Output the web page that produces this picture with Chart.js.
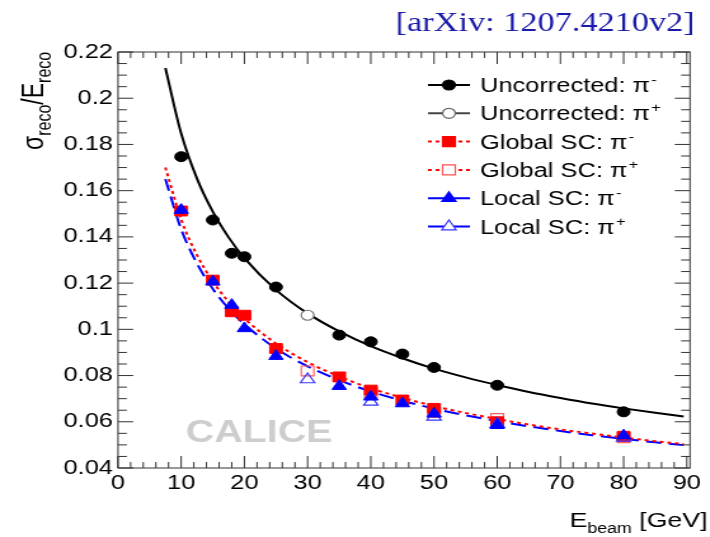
<!DOCTYPE html>
<html>
<head>
<meta charset="utf-8">
<script src="https://cdn.jsdelivr.net/npm/chart.js"></script>
<style>
html,body{margin:0;padding:0;background:#fff;overflow:hidden}
#wrap{width:559px;height:537px;transform:scaleX(1.27);transform-origin:0 0}
</style>
</head>
<body>
<div id="wrap"><canvas id="mycanvas" width="559" height="537"></canvas></div>
<script>
// beam energies (GeV) and resolution values
var energies = [10, 15, 18, 20, 25, 35, 40, 45, 50, 60, 80];
var uncorrMinus = [0.1747, 0.1473, 0.1329, 0.1314, 0.1183, 0.0975, 0.0946, 0.0893, 0.0835, 0.0758, 0.0643];
var globalMinus = [0.1512, 0.1213, 0.1076, 0.1061, 0.0917, 0.0794, 0.0737, 0.0694, 0.0658, 0.0600, 0.0537];
var localMinus  = [0.1516, 0.1206, 0.1105, 0.1004, 0.0884, 0.0754, 0.0708, 0.0679, 0.0635, 0.0585, 0.0540];

var uncorrPlusE = [30];
var uncorrPlus  = [0.1061];
var energiesPlus = [30, 40, 50, 60, 80];
var globalPlus = [0.0820, 0.0725, 0.0640, 0.0614, 0.0531];
var localPlus  = [0.0783, 0.0686, 0.0621, 0.0590, 0.0530];

// fit curves
var fitE       = [7.5, 10, 12.5, 15, 17.5, 20, 25, 30, 35, 40, 45, 50, 55, 60, 65, 70, 75, 80, 85, 89.5];
var fitUncorr  = [0.2131, 0.1847, 0.1652, 0.1509, 0.1398, 0.1308, 0.1171, 0.1069, 0.0991, 0.0927, 0.0875, 0.0830, 0.0792, 0.0759, 0.0729, 0.0703, 0.0679, 0.0658, 0.0639, 0.0623];
var fitGlobal  = [0.1700, 0.1475, 0.1321, 0.1207, 0.1119, 0.1047, 0.0939, 0.0858, 0.0796, 0.0745, 0.0704, 0.0668, 0.0638, 0.0612, 0.0588, 0.0567, 0.0549, 0.0532, 0.0516, 0.0504];
var fitLocal   = [0.1650, 0.1433, 0.1285, 0.1175, 0.1090, 0.1022, 0.0917, 0.0840, 0.0780, 0.0731, 0.0691, 0.0657, 0.0628, 0.0603, 0.0580, 0.0560, 0.0542, 0.0526, 0.0511, 0.0499];

var xTicks = [0, 10, 20, 30, 40, 50, 60, 70, 80, 90];
var yTicks = [0.04, 0.06, 0.08, 0.1, 0.12, 0.14, 0.16, 0.18, 0.2, 0.22];
var yTickLabels = ['0.04', '0.06', '0.08', '0.1', '0.12', '0.14', '0.16', '0.18', '0.2', '0.22'];

var legendItems = [
	{label: 'Uncorrected: \u03c0', sup: '-', style: 'circle', fill: '#000', stroke: '#000', line: '#000', dash: []},
	{label: 'Uncorrected: \u03c0', sup: '+', style: 'circle', fill: '#fff', stroke: '#666', line: '#444', dash: []},
	{label: 'Global SC: \u03c0', sup: '-', style: 'rect', fill: '#ff0000', stroke: '#ff0000', line: '#ff0000', dash: [3, 3]},
	{label: 'Global SC: \u03c0', sup: '+', style: 'rect', fill: '#fff', stroke: '#ff5050', line: '#ff0000', dash: [3, 3]},
	{label: 'Local SC: \u03c0', sup: '-', style: 'triangle', fill: '#0000ff', stroke: '#0000ff', line: '#0000ff', dash: [14, 6]},
	{label: 'Local SC: \u03c0', sup: '+', style: 'triangle', fill: '#fff', stroke: '#3535ff', line: '#0000ff', dash: [14, 6]}
];

function pts(xs, ys){
	return xs.map(function(x, i){ return {x: x, y: ys[i]}; });
}

var FONT = '"Liberation Sans", Arial, sans-serif';

function drawMarker(ctx, style, x, y, fill, stroke){
	ctx.save();
	ctx.setLineDash([]);
	ctx.fillStyle = fill;
	ctx.strokeStyle = stroke;
	ctx.lineWidth = 1.2;
	ctx.beginPath();
	if(style == 'circle'){
		ctx.arc(x, y, 5, 0, Math.PI*2);
	} else if(style == 'rect'){
		ctx.rect(x-5, y-5, 10, 10);
	} else {
		ctx.moveTo(x, y-6.5);
		ctx.lineTo(x+5.6, y+3.3);
		ctx.lineTo(x-5.6, y+3.3);
		ctx.closePath();
	}
	ctx.fill();
	ctx.stroke();
	ctx.restore();
}

var decorPlugin = {
	id: 'decor',
	beforeDatasetsDraw: function(chart){
		var ctx = chart.ctx;
		ctx.save();
		ctx.font = 'bold 31px ' + FONT;
		ctx.fillStyle = '#cdcdcd';
		ctx.textAlign = 'center';
		ctx.textBaseline = 'middle';
		ctx.fillText('CALICE', 204, 433);
		ctx.restore();
	},
	afterDraw: function(chart){
		var ctx = chart.ctx;
		var a = chart.chartArea;
		var xs = chart.scales.x, ys = chart.scales.y;
		ctx.save();
		// frame
		ctx.strokeStyle = '#333';
		ctx.lineWidth = 1;
		ctx.strokeRect(a.left, a.top, a.right-a.left, a.bottom-a.top);
		// x ticks (inside, bottom and top)
		ctx.beginPath();
		for(var v = 0; v <= 90; v += 2){
			var px = xs.getPixelForValue(v);
			var len = (v % 10 == 0) ? 12 : 6;
			ctx.moveTo(px, a.bottom); ctx.lineTo(px, a.bottom-len);
			ctx.moveTo(px, a.top); ctx.lineTo(px, a.top+len);
		}
		// y ticks (inside, left and right)
		for(var k = 0; k <= 36; k++){
			var val = 0.04 + k*0.005;
			var py = ys.getPixelForValue(val);
			var l2 = (k % 4 == 0) ? 12 : 7;
			ctx.moveTo(a.left, py); ctx.lineTo(a.left+l2, py);
			ctx.moveTo(a.right, py); ctx.lineTo(a.right-l2, py);
		}
		ctx.stroke();

		// legend
		legendItems.forEach(function(it, i){
			var y = 85 + i*28.3;
			ctx.save();
			ctx.strokeStyle = it.line;
			ctx.lineWidth = 2;
			ctx.setLineDash(it.dash);
			ctx.beginPath();
			ctx.moveTo(337, y); ctx.lineTo(370, y);
			ctx.stroke();
			ctx.restore();
			drawMarker(ctx, it.style, 353.5, y, it.fill, it.stroke);
			ctx.fillStyle = '#000';
			ctx.font = '20px ' + FONT;
			ctx.textAlign = 'left';
			ctx.textBaseline = 'alphabetic';
			ctx.fillText(it.label, 378, y+7);
			var w = ctx.measureText(it.label).width;
			ctx.font = '13px ' + FONT;
			ctx.fillText(it.sup, 378+w+1, y-1);
		});

		// y axis title
		ctx.save();
		ctx.translate(34, 150);
		ctx.rotate(-Math.PI/2);
		ctx.fillStyle = '#000';
		ctx.textBaseline = 'alphabetic';
		var x0 = 0;
		var parts = [['\u03c3', 23, 0], ['reco', 16, 6], ['/', 23, 0], ['E', 23, 0], ['reco', 16, 6]];
		parts.forEach(function(p){
			ctx.font = p[1] + 'px ' + FONT;
			ctx.fillText(p[0], x0, p[2]);
			x0 += ctx.measureText(p[0]).width;
		});
		ctx.restore();

		// x axis title
		ctx.fillStyle = '#000';
		var xparts = [['E', 21, 0], ['beam', 14, 6], [' [GeV]', 21, 0]];
		var tw = 0;
		xparts.forEach(function(p){ ctx.font = p[1] + 'px ' + FONT; tw += ctx.measureText(p[0]).width; });
		var xx = 557 - tw;
		xparts.forEach(function(p){
			ctx.font = p[1] + 'px ' + FONT;
			ctx.fillText(p[0], xx, 527 + p[2]);
			xx += ctx.measureText(p[0]).width;
		});

		// reference tag
		ctx.font = '27px "Liberation Serif", "Times New Roman", serif';
		ctx.fillStyle = '#1a1aa8';
		ctx.textAlign = 'right';
		ctx.fillText('[arXiv: 1207.4210v2]', 547, 31);
		ctx.restore();
	}
};

var ctx = document.getElementById('mycanvas');
var chart = new Chart(ctx, {
	type: 'scatter',
	data: {
		datasets: [
			{label: 'Local SC pi-', data: pts(energies, localMinus), pointStyle: 'triangle', pointRadius: 6.5, backgroundColor: '#0000ff', borderColor: '#0000ff', borderWidth: 1},
			{label: 'Local SC pi+', data: pts(energiesPlus, localPlus), pointStyle: 'triangle', pointRadius: 6.5, backgroundColor: 'rgba(255,255,255,0)', borderColor: '#3535ff', borderWidth: 1.2},
			{label: 'Global SC pi-', data: pts(energies, globalMinus), pointStyle: 'rect', pointRadius: 7, backgroundColor: '#ff0000', borderColor: '#ff0000', borderWidth: 1},
			{label: 'Global SC pi+', data: pts(energiesPlus, globalPlus), pointStyle: 'rect', pointRadius: 7, backgroundColor: 'rgba(255,255,255,0)', borderColor: '#ff6060', borderWidth: 1.2},
			{label: 'Uncorrected pi-', data: pts(energies, uncorrMinus), pointStyle: 'circle', pointRadius: 5, backgroundColor: '#000', borderColor: '#000', borderWidth: 1},
			{label: 'Uncorrected pi+', data: pts(uncorrPlusE, uncorrPlus), pointStyle: 'circle', pointRadius: 5, backgroundColor: '#fff', borderColor: '#777', borderWidth: 1.2},
			{label: 'fit uncorr', data: pts(fitE, fitUncorr), showLine: true, pointRadius: 0, borderColor: '#000', borderWidth: 2, cubicInterpolationMode: 'monotone'},
			{label: 'fit global', data: pts(fitE, fitGlobal), showLine: true, pointRadius: 0, borderColor: '#ff0000', borderWidth: 2, borderDash: [3, 3], cubicInterpolationMode: 'monotone'},
			{label: 'fit local', data: pts(fitE, fitLocal), showLine: true, pointRadius: 0, borderColor: '#0000ff', borderWidth: 2, borderDash: [12, 6], cubicInterpolationMode: 'monotone'}
		]
	},
	options: {
		responsive: false,
		animation: false,
		devicePixelRatio: 1,
		layout: {padding: {left: 0, right: 15.7, top: 52, bottom: 0}},
		plugins: {legend: {display: false}, tooltip: {enabled: false}},
		scales: {
			x: {
				type: 'linear', min: 0, max: 90.5,
				afterBuildTicks: function(ax){ ax.ticks = xTicks.map(function(v){ return {value: v}; }); },
				afterFit: function(ax){ ax.height = 69; },
				grid: {display: false, drawTicks: false},
				border: {display: false},
				ticks: {autoSkip: false, maxRotation: 0, padding: 3, color: '#000', font: {family: FONT, size: 20}}
			},
			y: {
				type: 'linear', min: 0.04, max: 0.22,
				afterBuildTicks: function(ax){ ax.ticks = yTicks.map(function(v){ return {value: v}; }); },
				afterFit: function(ax){ ax.width = 92.9; },
				grid: {display: false, drawTicks: false},
				border: {display: false},
				ticks: {autoSkip: false, padding: 4, color: '#000', font: {family: FONT, size: 20},
					callback: function(v, i){ return yTickLabels[i]; }}
			}
		}
	},
	plugins: [decorPlugin]
});
</script>
</body>
</html>
